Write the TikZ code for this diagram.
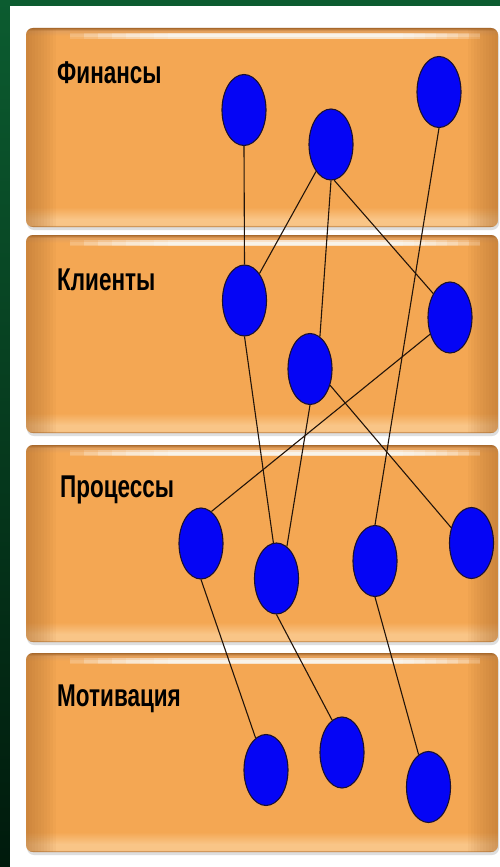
\documentclass[tikz,border=0pt]{standalone}
\usepackage{fontspec}
\setmainfont{Liberation Sans}
\usetikzlibrary{shapes.geometric}
\definecolor{bedge}{HTML}{A8692C}
\definecolor{bmain}{HTML}{F4A753}
\definecolor{blight}{HTML}{F9C587}
\definecolor{btopc}{HTML}{E3A05C}
\definecolor{gtop}{HTML}{0C5C30}
\definecolor{gbot}{HTML}{001A0C}
\definecolor{dotblue}{HTML}{0505F5}
\definecolor{dotline}{HTML}{1A1030}
\definecolor{linkc}{HTML}{22140A}
\pgfdeclareverticalshading{bandv}{100bp}{color(0bp)=(bedge); color(25bp)=(bedge); color(25.5bp)=(blight); color(27bp)=(blight); color(30bp)=(bmain); color(73bp)=(bmain); color(74.3bp)=(btopc); color(75bp)=(bedge); color(100bp)=(bedge)}
\tikzset{
  dot/.style={ellipse, draw=dotline, line width=1.1pt, fill=dotblue, minimum width=44pt, minimum height=71pt, inner sep=0pt},
  lbl/.style={anchor=base west, inner sep=0pt, font=\bfseries\fontsize{22.5}{27}\selectfont, text=black},
  link/.style={draw=linkc, line width=1.1pt}
}
\begin{document}
\begin{tikzpicture}[x=1pt,y=-1pt]
\useasboundingbox (0,0) rectangle (500,867);
% background frame
\shade[top color=gtop, bottom color=gbot] (0,0) rectangle (500,867);
\fill[white] (10,6) rectangle (500,867);
% bands
\foreach \t/\b in {28/227,235/433,445/642,653/852}{
  \fill[black!25, opacity=0.5, rounded corners=7] (27,{\t+2}) rectangle (499,{\b+3});
  \begin{scope}
    \clip[rounded corners=7] (26,\t) rectangle (498,\b);
    \shade[shading=bandv] (26,\t) rectangle (498,\b);
    \foreach \k in {1,...,10}{
      \fill[bedge, opacity=0.06] (26,\t) rectangle ({26+3*\k},\b);
      \fill[bedge, opacity=0.06] ({498-3*\k},\t) rectangle (498,\b);
    }
    \foreach \k in {0,...,7}{
      \fill[white, opacity=0.14] ({70+14*\k},{\t+5}) rectangle ({480-11*\k},{\t+11});
      \fill[white, opacity=0.12] ({70+14*\k},{\t+6.5}) rectangle ({480-11*\k},{\t+9.5});
    }
  \end{scope}
}
% labels
\node[lbl] (tF) at (57,84) {\scalebox{1}[1.4]{Финансы}};
\node[lbl] (tK) at (57,290) {\scalebox{1}[1.4]{Клиенты}};
\node[lbl] (tP) at (60,497) {\scalebox{1}[1.4]{Процессы}};
\node[lbl] (tM) at (57,706) {\scalebox{1}[1.4]{Мотивация}};
% dots
\node[dot] (F1) at (244,110) {};
\node[dot] (F2) at (331,144.5) {};
\node[dot] (F3) at (439,92) {};
\node[dot] (K1) at (244.5,300.5) {};
\node[dot] (K2) at (450,317.5) {};
\node[dot] (K3) at (310,369) {};
\node[dot] (P1) at (201,543.5) {};
\node[dot] (P2) at (276.5,578.5) {};
\node[dot] (P3) at (375,561) {};
\node[dot] (P4) at (471.5,543) {};
\node[dot] (M1) at (266,770) {};
\node[dot] (M2) at (342,752.5) {};
\node[dot] (M3) at (428.5,787) {};
% links
\draw[link] (F1.south) -- (K1.north);
\draw[link] (F2) -- (K1);
\draw[link] (F2.south) -- (K3.73);
\draw[link] (F2.-85) -- (K2.125);
\draw[link] (F3.south) -- (P3.north);
\draw[link] (K1.south) -- (P2.95);
\draw[link] (K3.south) -- (P2.72);
\draw[link] (K3.-39) -- (P4.143);
\draw[link] (K2.220) -- (P1.72);
\draw[link] (P1.south) -- (M1.108);
\draw[link] (P2.south) -- (M2.107);
\draw[link] (P3.south) -- (M3.107);
\end{tikzpicture}
\end{document}
